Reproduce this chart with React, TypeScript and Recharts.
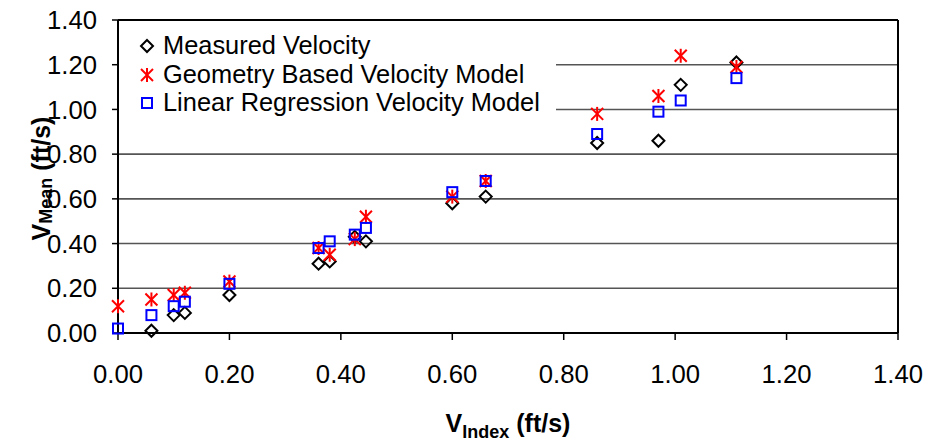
import React from "react";
import {
  ScatterChart,
  Scatter,
  XAxis,
  YAxis,
  CartesianGrid,
  ReferenceLine,
  Legend,
} from "recharts";

// V_index values (ft/s), shared by all three series
const vIndex = [0.0, 0.06, 0.1, 0.12, 0.2, 0.36, 0.38, 0.425, 0.445, 0.6, 0.66, 0.86, 0.97, 1.01, 1.11];
const measured = [null, 0.01, 0.08, 0.09, 0.17, 0.31, 0.32, 0.43, 0.41, 0.58, 0.61, 0.85, 0.86, 1.11, 1.21];
const geometryModel = [0.12, 0.15, 0.17, 0.18, 0.23, 0.38, 0.35, 0.42, 0.52, 0.61, 0.68, 0.98, 1.06, 1.24, 1.19];
const regressionModel = [0.02, 0.08, 0.12, 0.14, 0.22, 0.38, 0.41, 0.44, 0.47, 0.63, 0.68, 0.89, 0.99, 1.04, 1.14];
const ticks = [0, 0.2, 0.4, 0.6, 0.8, 1.0, 1.2, 1.4];

const seriesNames = [
  "Measured Velocity",
  "Geometry Based Velocity Model",
  "Linear Regression Velocity Model",
];

const toPoints = (ys: (number | null)[]) =>
  vIndex
    .map((x, i) => ({ x, y: ys[i] }))
    .filter((p) => p.y !== null);

const FONT = "'Liberation Sans', Arial, sans-serif";

const Diamond = ({ cx, cy }: any) => (
  <polygon
    points={`${cx},${cy - 6} ${cx + 6},${cy} ${cx},${cy + 6} ${cx - 6},${cy}`}
    fill="none"
    stroke="#000"
    strokeWidth={2}
  />
);

const Star = ({ cx, cy }: any) => (
  <g stroke="#ff0000" strokeWidth={2}>
    <line x1={cx} y1={cy - 7} x2={cx} y2={cy + 7} />
    <line x1={cx - 6} y1={cy - 6} x2={cx + 6} y2={cy + 6} />
    <line x1={cx - 6} y1={cy + 6} x2={cx + 6} y2={cy - 6} />
  </g>
);

const Square = ({ cx, cy }: any) => (
  <rect x={cx - 5} y={cy - 5} width={10} height={10} fill="none" stroke="#0000ff" strokeWidth={2} />
);

const markers = [Diamond, Star, Square];

const renderLegend = () => (
  <div style={{ paddingTop: 10, fontFamily: FONT, fontSize: 25.4, color: "#000" }}>
    {seriesNames.map((name, i) => {
      const Marker = markers[i];
      return (
        <div key={name} style={{ display: "flex", alignItems: "center", height: 28.5, paddingLeft: 20 }}>
          <svg width={16} height={16} style={{ marginRight: 8, marginTop: 2 }}>
            <Marker cx={8} cy={8} />
          </svg>
          <span style={{ lineHeight: "28.5px", whiteSpace: "nowrap" }}>{name}</span>
        </div>
      );
    })}
  </div>
);

const XTitle = ({ viewBox }: any) => {
  const cx = viewBox.x + viewBox.width / 2;
  const by = viewBox.y + 98.5;
  return (
    <text x={cx} y={by} textAnchor="middle" fontFamily={FONT} fontWeight="bold" fontSize={25} fill="#000">
      <tspan>V</tspan>
      <tspan fontSize={18} dy={6}>Index</tspan>
      <tspan dy={-6}> (ft/s)</tspan>
    </text>
  );
};

const YTitle = ({ viewBox }: any) => {
  const bx = 50;
  const cy = viewBox.y + viewBox.height / 2 + 2;
  return (
    <text
      x={bx}
      y={cy}
      transform={`rotate(-90, ${bx}, ${cy})`}
      textAnchor="middle"
      fontFamily={FONT}
      fontWeight="bold"
      fontSize={25}
      fill="#000"
    >
      <tspan>V</tspan>
      <tspan fontSize={18} dy={2}>Mean</tspan>
      <tspan dy={-2}> (ft/s)</tspan>
    </text>
  );
};

const App: React.FC = () => {
  const tickStyle = { fill: "#000", fontSize: 25.7, fontFamily: FONT };
  return (
    <div style={{ position: "absolute", left: 0, top: 0, width: 925, height: 442, background: "#fff" }}>
      <ScatterChart width={925} height={442} margin={{ top: 20, right: 27, left: 0, bottom: 0 }}>
        <CartesianGrid vertical={false} stroke="#555" strokeWidth={1.6} />
        <XAxis
          type="number"
          dataKey="x"
          domain={[0, 1.4]}
          ticks={ticks}
          tickFormatter={(v: number) => v.toFixed(2)}
          height={109}
          axisLine={{ stroke: "#000", strokeWidth: 2 }}
          tickLine={{ stroke: "#000", strokeWidth: 1.5 }}
          tickSize={7}
          tickMargin={25}
          tick={tickStyle}
          interval={0}
          label={{ content: XTitle }}
        />
        <YAxis
          type="number"
          dataKey="y"
          domain={[0, 1.4]}
          ticks={ticks}
          tickFormatter={(v: number) => v.toFixed(2)}
          width={118}
          axisLine={{ stroke: "#000", strokeWidth: 2 }}
          tickLine={{ stroke: "#000", strokeWidth: 1.5 }}
          tickSize={6}
          tickMargin={15}
          tick={tickStyle}
          interval={0}
          label={{ content: YTitle }}
        />
        <ReferenceLine y={1.4} stroke="#000" strokeWidth={2} />
        <ReferenceLine x={1.4} stroke="#000" strokeWidth={2} />
        <Legend
          layout="vertical"
          align="center"
          verticalAlign="middle"
          content={renderLegend}
          wrapperStyle={{ left: 119, top: 21, width: 437, height: 98, background: "#fff" }}
        />
        <Scatter name={seriesNames[0]} data={toPoints(measured)} shape={Diamond} isAnimationActive={false} />
        <Scatter name={seriesNames[1]} data={toPoints(geometryModel)} shape={Star} isAnimationActive={false} />
        <Scatter name={seriesNames[2]} data={toPoints(regressionModel)} shape={Square} isAnimationActive={false} />
      </ScatterChart>
    </div>
  );
};

export default App;
